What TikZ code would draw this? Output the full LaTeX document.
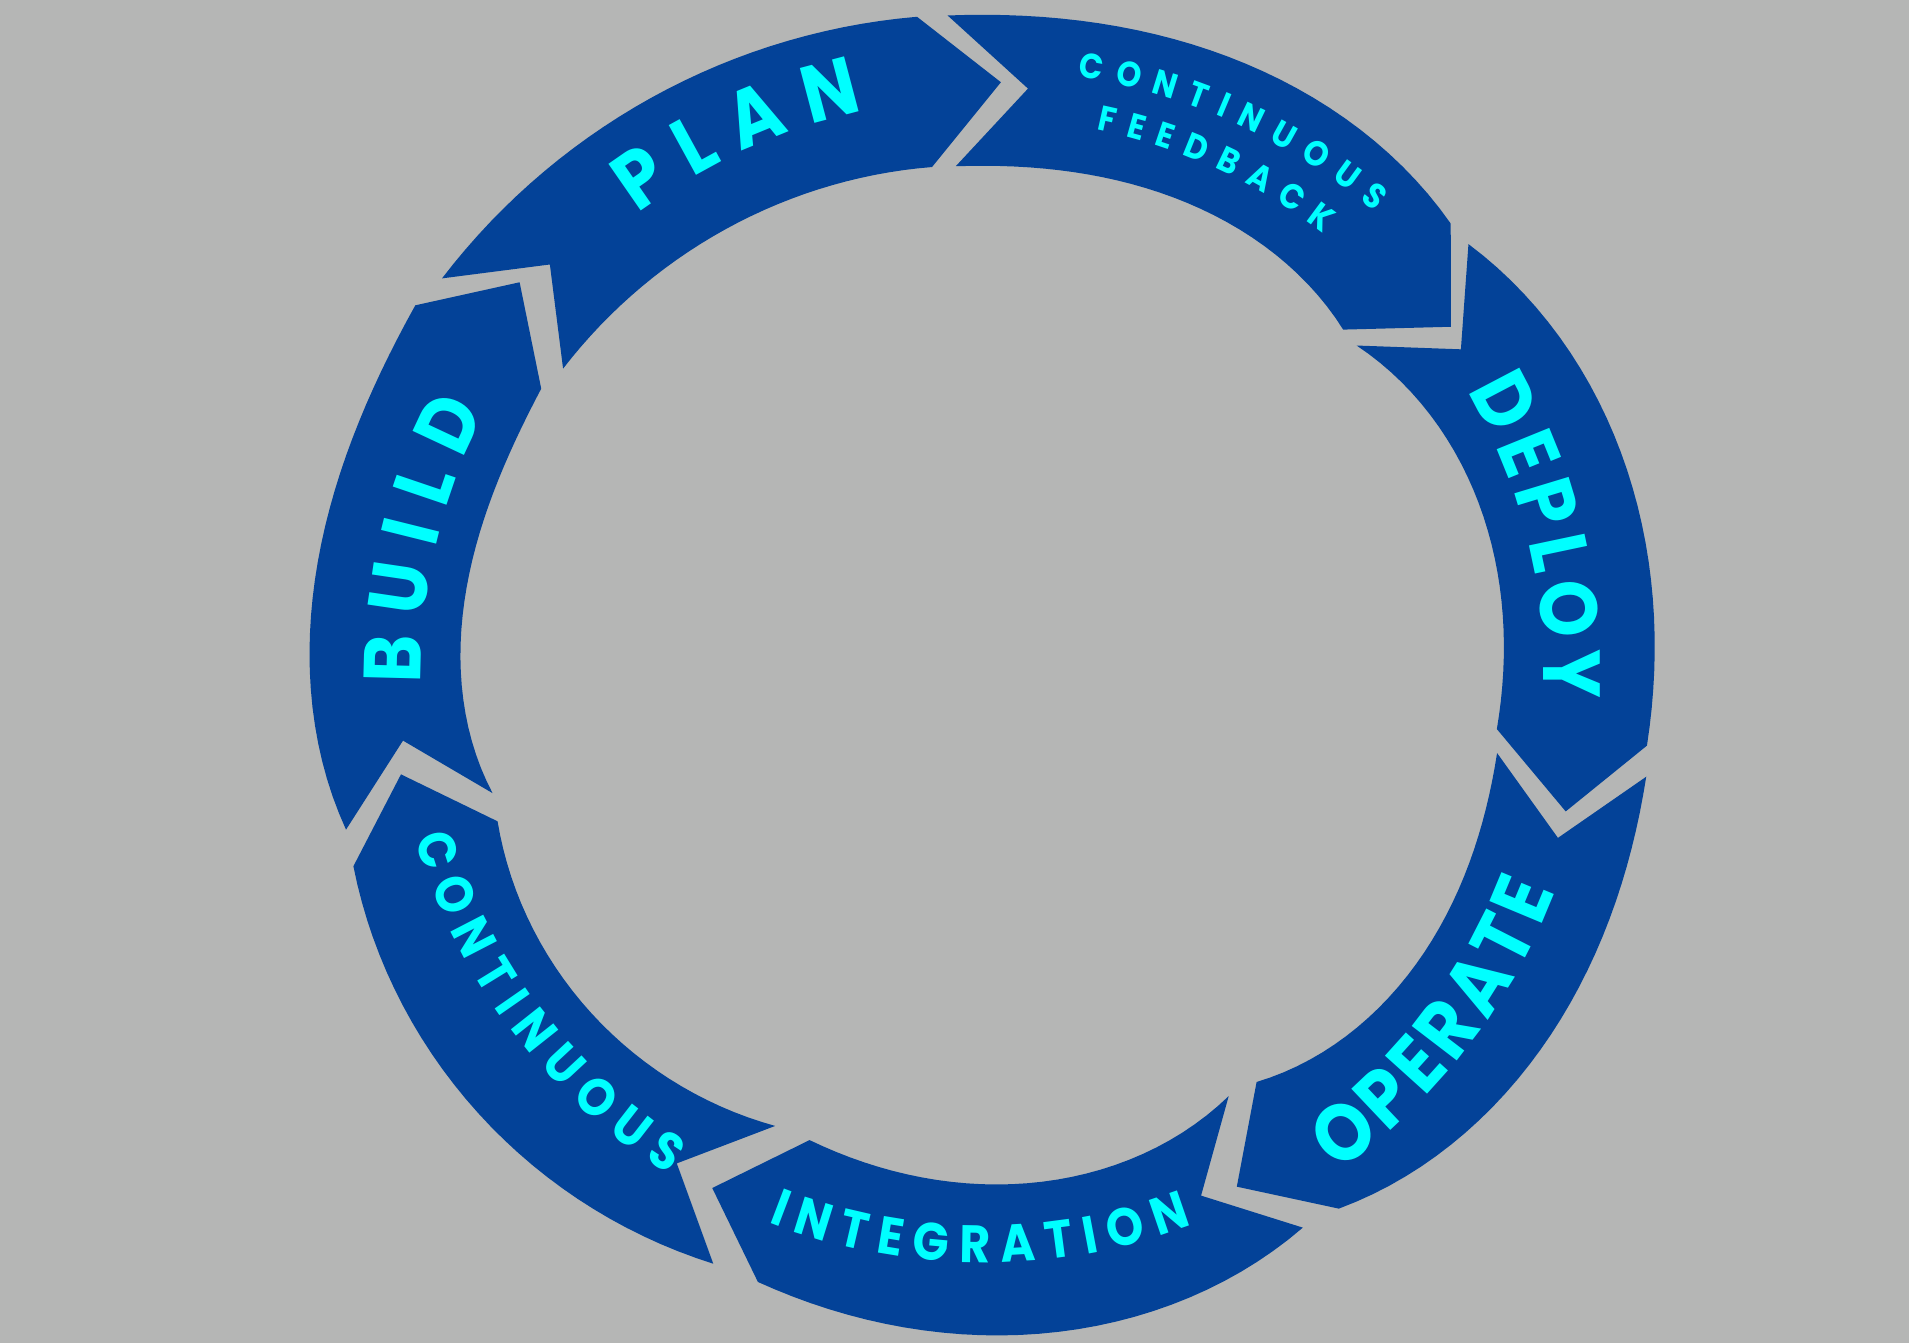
\documentclass[tikz,border=0pt]{standalone}
\usepackage{fontspec}
\newfontfamily\ringfont{Poppins}[FakeStretch=0.9]
\usetikzlibrary{decorations.text}
\definecolor{bggray}{RGB}{181,182,181}
\definecolor{segblue}{RGB}{3,66,152}
\definecolor{wordcyan}{RGB}{0,255,255}
\newcommand{\bigword}{\ringfont\bfseries\fontsize{23}{23}\selectfont\color{wordcyan}}
\newcommand{\midword}{\ringfont\bfseries\fontsize{15}{15}\selectfont\color{wordcyan}}
\newcommand{\smallword}{\ringfont\bfseries\fontsize{10}{10}\selectfont\color{wordcyan}}
% one ring segment: start angle, end angle, dent at the start, dent at the end
\newcommand{\ringseg}[4]{%
	\fill[seg] plot[domain=#1:#2, samples=31] ({(6.76-dd(\x,#1,#2,#3,#4))*cos(\x)}, {(6.62-dd(\x,#1,#2,#3,#4))*sin(\x)})
		-- ({(6.075-#4)*cos(#2-7.3)}, {(5.935-#4)*sin(#2-7.3)})
		-- plot[domain=#2:#1, samples=31] ({(5.25-dd(\x,#1,#2,#3,#4))*cos(\x)}, {(5.11-dd(\x,#1,#2,#3,#4))*sin(\x)})
		-- ({(6.035-#3)*cos(#1-7.3)}, {(5.895-#3)*sin(#1-7.3)}) -- cycle;}
\begin{document}
\begin{tikzpicture}[seg/.style={fill=segblue},
	word/.style={decorate, decoration={text along path, text align={fit to path}}},
	declare function={tt(\x,\a,\b)=(\a-\x)/(\a-\b);
		dd(\x,\a,\b,\p,\q)=(\p+(\q-\p)*tt(\x,\a,\b))*(2*tt(\x,\a,\b)-1)*(2*tt(\x,\a,\b)-1);}]
		\useasboundingbox[fill=bggray] (-9.84,-6.69) rectangle (9.25,6.74);
		% ring segments, clockwise, tip at the end and notch at the start
		\ringseg{143.3}{95.7}{0}{0.015}   % plan
		\ringseg{93.1}{44.6}{0.025}{0.205} % continuous feedback
		\ringseg{42.2}{-6.3}{0.22}{0.09}   % deploy
		\ringseg{-9.0}{-57.0}{0.055}{0.245} % operate
		\ringseg{-60.6}{-110.0}{0.265}{0.15} % integration
		\ringseg{-114.2}{-162.7}{0.155}{0.155} % continuous
		\ringseg{194.0}{146.5}{0.185}{-0.06} % build
		% words on the upper half read clockwise
		\path[word, decoration={text={|\bigword|PLAN}}] (127.0:5.76) arc[start angle=127.0, end angle=102.1, radius=5.76];
		\path[word, decoration={text={|\smallword|CONTINUOUS}}] (81.1:6.05) arc[start angle=81.1, end angle=49.8, radius=6.05];
		\path[word, decoration={text={|\smallword|FEEDBACK}}] (78.3:5.56) arc[start angle=78.3, end angle=52.4, radius=5.56];
		\path[word, decoration={text={|\bigword|DEPLOY}}] (30.4:5.60) arc[start angle=30.4, end angle=-2.45, radius=5.60];
		\path[word, decoration={text={|\bigword|BUILD}}] (181.0:5.63) arc[start angle=181.0, end angle=152.2, radius=5.63];
		% words on the lower half read counterclockwise
		\path[word, decoration={text={|\bigword|OPERATE}}] (-54.6:6.11) arc[start angle=-54.6, end angle=-20.8, radius=6.11];
		\path[word, decoration={text={|\midword|INTEGRATION}}] (-111.5:5.89) arc[start angle=-111.5, end angle=-69.3, radius=5.89];
		\path[word, decoration={text={|\midword|CONTINUOUS}}] (-163.9:5.92) arc[start angle=-163.9, end angle=-122.2, radius=5.92];
\end{tikzpicture}
\end{document}
